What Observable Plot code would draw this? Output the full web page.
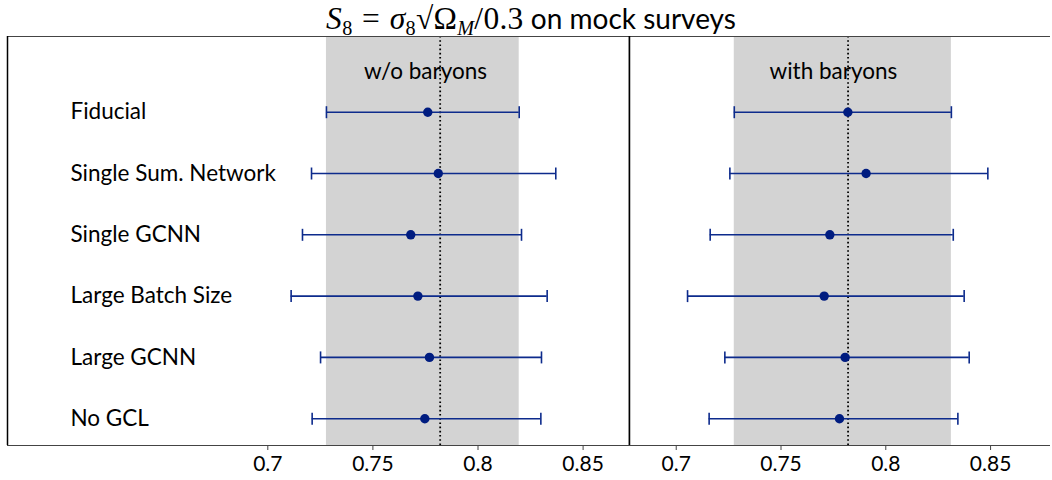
<!DOCTYPE html>
<html>
<head>
<meta charset="utf-8">
<script src="https://cdn.jsdelivr.net/npm/d3@7"></script>
<script src="https://cdn.jsdelivr.net/npm/@observablehq/plot@0.6"></script>
<style>
  body { margin: 0; background: #fff; width: 1052px; height: 480px; position: relative; overflow: hidden; }
  #title { position: absolute; left: 0; top: 1px; width: 1062px; text-align: center; white-space: nowrap; line-height: 35px; }
  #title .m { font-family: "Liberation Serif", serif; font-size: 31.5px; letter-spacing: 0.3px; }
  #title .t { font-family: Lato, sans-serif; font-size: 28px; }
  #title sub { font-size: 0.64em; vertical-align: -0.28em; line-height: 0; }
  #left { position: absolute; left: 0; top: 36px; }
  #right { position: absolute; left: 629px; top: 36px; }
</style>
</head>
<body>
<div id="title"><span class="m"><i>S</i><sub>8</sub>&#8202;&#8201;=&#8201;&#8202;<i>σ</i><sub>8</sub>√Ω<sub><i>M</i></sub>/0.3</span><span class="t"> on mock surveys</span></div>
<div id="left"></div>
<div id="right"></div>
<script>
const models = ["Fiducial", "Single Sum. Network", "Single GCNN", "Large Batch Size", "Large GCNN", "No GCL"];
// w/o baryons
const noBarMean = [0.7761, 0.7811, 0.7680, 0.7714, 0.7769, 0.7747];
const noBarLo   = [0.7279, 0.7208, 0.7165, 0.7111, 0.7251, 0.7211];
const noBarHi   = [0.8196, 0.8370, 0.8207, 0.8329, 0.8302, 0.8299];
// with baryons
const barMean = [0.7819, 0.7906, 0.7733, 0.7706, 0.7806, 0.7779];
const barLo   = [0.7277, 0.7256, 0.7162, 0.7054, 0.7232, 0.7157];
const barHi   = [0.8313, 0.8487, 0.8322, 0.8374, 0.8398, 0.8344];
const truthS8 = 0.782;
const xTicks = [0.7, 0.75, 0.8, 0.85];
const panelTitles = ["w/o baryons", "with baryons"];

const yDomain = [5.437, -1.235];
const capSymbol = { draw(ctx) { ctx.moveTo(0, -6); ctx.lineTo(0, 6); } };

function rows(mean, lo, hi) {
  return models.map((m, i) => ({ model: m, i, mean: mean[i], lo: lo[i], hi: hi[i] }));
}

function panel({ data, xDomain, width, marginLeft, marginRight, title, labels, leftSpine, rightSpine }) {
  const band = [{ x1: data[0].lo, x2: data[0].hi }];
  const marks = [
    Plot.rect(band, { x1: "x1", x2: "x2", fill: "#d3d3d3" }),
    Plot.ruleX([truthS8], { stroke: "black", strokeWidth: 1.8, strokeDasharray: "1.6,2.6" }),
    Plot.ruleY(data, { x1: "lo", x2: "hi", y: "i", stroke: "#0d2b8c", strokeWidth: 1.6 }),
    Plot.dot(data, { x: "lo", y: "i", symbol: capSymbol, stroke: "#0d2b8c", strokeWidth: 1.6, fill: "none" }),
    Plot.dot(data, { x: "hi", y: "i", symbol: capSymbol, stroke: "#0d2b8c", strokeWidth: 1.6, fill: "none" }),
    Plot.dot(data, { x: "mean", y: "i", r: 4.7, fill: "#001c80", stroke: "none" }),
    Plot.text([title], { x: 0.775, y: -0.66, text: d => d, fontSize: 22.5, textAnchor: "middle", fill: "black" }),
    Plot.ruleY([yDomain[1]], { stroke: "#444", strokeWidth: 1.2 }),
    Plot.ruleY([yDomain[0]], { stroke: "#444", strokeWidth: 1.2 }),
    Plot.axisX(xTicks, { tickSize: 5, tickPadding: 6, tickFormat: d => String(d), fontSize: 21, stroke: "#444", fill: "black" })
  ];
  if (labels) {
    marks.push(Plot.text(data, { y: "i", text: "model", frameAnchor: "left", dx: 63, textAnchor: "start", fontSize: 22.5, fill: "black" }));
  }
  if (leftSpine) marks.push(Plot.ruleX([xDomain[0]], { stroke: "black", strokeWidth: 1.5 }));
  if (rightSpine) marks.push(Plot.ruleX([xDomain[1]], { stroke: "black", strokeWidth: 1.5 }));
  return Plot.plot({
    width, height: 444,
    marginLeft, marginRight, marginTop: 0, marginBottom: 35,
    x: { domain: xDomain, axis: null },
    y: { domain: yDomain, axis: null },
    style: { fontFamily: "Lato, sans-serif", fontSize: "20px", background: "white", overflow: "visible" },
    marks
  });
}

document.getElementById("left").append(panel({
  data: rows(noBarMean, noBarLo, noBarHi),
  xDomain: [0.57617, 0.87207], width: 629, marginLeft: 7, marginRight: 0,
  title: panelTitles[0], labels: true, leftSpine: true, rightSpine: true
}));
document.getElementById("right").append(panel({
  data: rows(barMean, barLo, barHi),
  xDomain: [0.6777, 0.8786], width: 423, marginLeft: 0, marginRight: 2,
  title: panelTitles[1], labels: false, leftSpine: true, rightSpine: false
}));
</script>
</body>
</html>
